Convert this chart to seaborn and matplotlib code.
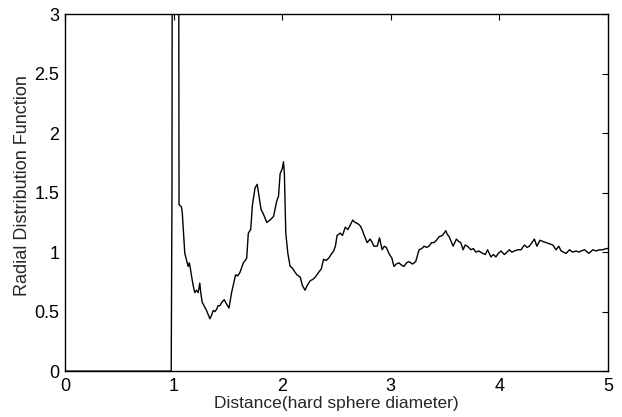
import matplotlib
matplotlib.use('Agg')
import matplotlib.pyplot as plt
import seaborn as sns
import pandas as pd

# distance (hard sphere diameters) and g(r)
distance = [0.0, 0.5, 0.978, 0.985, 0.99, 1.00, 1.02, 1.045, 1.05,
            1.072, 1.08, 1.09, 1.103, 1.12, 1.134, 1.145, 1.155, 1.165,
            1.18, 1.195, 1.21, 1.226, 1.241, 1.25, 1.263, 1.28, 1.303,
            1.334, 1.35, 1.365, 1.38, 1.396, 1.41, 1.426, 1.445, 1.466,
            1.49, 1.51, 1.534, 1.571, 1.59, 1.611, 1.642, 1.66, 1.673,
            1.688, 1.71, 1.725, 1.75, 1.77, 1.787, 1.805, 1.827, 1.84,
            1.858, 1.888, 1.92, 1.95, 1.966, 1.981, 2.0, 2.012, 2.02,
            2.033, 2.052, 2.073, 2.09, 2.104, 2.12, 2.135, 2.166, 2.186,
            2.21, 2.23, 2.258, 2.28, 2.304, 2.335, 2.36, 2.381, 2.405,
            2.428, 2.45, 2.474, 2.49, 2.505, 2.535, 2.555, 2.581, 2.605,
            2.628, 2.65, 2.67, 2.695, 2.72, 2.74, 2.751, 2.782, 2.81,
            2.83, 2.844, 2.875, 2.896, 2.92, 2.94, 2.958, 2.988, 3.01,
            3.029, 3.05, 3.075, 3.1, 3.121, 3.145, 3.167, 3.2, 3.229,
            3.26, 3.285, 3.306, 3.33, 3.352, 3.375, 3.398, 3.42, 3.445,
            3.475, 3.506, 3.52, 3.537, 3.574, 3.604, 3.625, 3.644, 3.666,
            3.685, 3.706, 3.737, 3.76, 3.783, 3.81, 3.845, 3.87, 3.891,
            3.922, 3.945, 3.968, 3.99, 4.014, 4.045, 4.07, 4.091, 4.115,
            4.138, 4.17, 4.199, 4.23, 4.255, 4.276, 4.3, 4.322, 4.345,
            4.374, 4.4, 4.43, 4.46, 4.492, 4.522, 4.547, 4.568, 4.59,
            4.615, 4.645, 4.675, 4.707, 4.73, 4.753, 4.784, 4.824, 4.861,
            4.89, 4.923, 4.95, 4.984, 5.0]
rdf = [0.0, 0.0, 0.0, 1.5, 6.0, 7.5, 7.0, 5.0, 1.40,
       1.38, 1.33, 1.18, 0.99, 0.93, 0.88, 0.91, 0.86, 0.80,
       0.72, 0.66, 0.68, 0.66, 0.74, 0.66, 0.58, 0.55, 0.51,
       0.44, 0.47, 0.51, 0.50, 0.52, 0.55, 0.55, 0.58, 0.60,
       0.56, 0.53, 0.66, 0.81, 0.80, 0.83, 0.91, 0.93, 0.95,
       1.16, 1.19, 1.39, 1.54, 1.57, 1.47, 1.36, 1.32, 1.29,
       1.25, 1.27, 1.30, 1.43, 1.47, 1.66, 1.70, 1.76, 1.66,
       1.16, 0.99, 0.88, 0.87, 0.85, 0.83, 0.81, 0.79, 0.72,
       0.68, 0.72, 0.76, 0.77, 0.79, 0.83, 0.86, 0.94, 0.93,
       0.95, 0.98, 1.01, 1.05, 1.14, 1.16, 1.14, 1.21, 1.19,
       1.23, 1.27, 1.25, 1.24, 1.22, 1.18, 1.15, 1.08, 1.11,
       1.08, 1.05, 1.05, 1.12, 1.02, 1.05, 1.04, 0.98, 0.95,
       0.88, 0.90, 0.91, 0.89, 0.88, 0.91, 0.92, 0.90, 0.92,
       1.02, 1.03, 1.05, 1.04, 1.05, 1.08, 1.08, 1.10, 1.13,
       1.14, 1.18, 1.15, 1.13, 1.05, 1.11, 1.09, 1.08, 1.02,
       1.06, 1.05, 1.02, 1.03, 1.00, 1.01, 0.99, 0.98, 1.02,
       0.96, 0.98, 0.96, 0.99, 1.01, 0.98, 1.00, 1.02, 1.00,
       1.01, 1.02, 1.02, 1.06, 1.04, 1.05, 1.08, 1.11, 1.05,
       1.10, 1.09, 1.08, 1.07, 1.06, 1.02, 1.05, 1.01, 1.00,
       0.99, 1.02, 1.00, 1.01, 1.00, 1.01, 1.02, 0.99, 1.02,
       1.01, 1.02, 1.02, 1.03, 1.03]

df = pd.DataFrame({'distance': distance, 'rdf': rdf})

sns.set_style('white')
plt.rcParams['font.family'] = ['Liberation Sans', 'DejaVu Sans']
plt.rcParams['xtick.direction'] = 'in'
plt.rcParams['ytick.direction'] = 'in'

fig = plt.figure(figsize=(6.22, 4.17), dpi=100)
ax = fig.add_axes([0.1045, 0.11, 0.873, 0.856])
sns.lineplot(data=df, x='distance', y='rdf', color='black', linewidth=1.0,
             ax=ax, estimator=None, sort=False)

ax.set_xlim(0, 5)
ax.set_ylim(0, 3)
ax.set_xticks([0, 1, 2, 3, 4, 5])
ax.set_yticks([0, 0.5, 1, 1.5, 2, 2.5, 3])
ax.set_yticklabels(['0', '0.5', '1', '1.5', '2', '2.5', '3'])
ax.tick_params(axis='both', which='both', top=True, right=True,
               length=4, width=0.8, labelsize=13, colors='black')
ax.tick_params(axis='x', pad=5)
ax.tick_params(axis='y', pad=4)
for s in ax.spines.values():
    s.set_color('black')
    s.set_linewidth(1.0)
ax.set_xlabel('Distance(hard sphere diameter)', fontsize=12.5, labelpad=1)
ax.set_ylabel('Radial Distribution Function', fontsize=13)
ax.yaxis.set_label_coords(-0.063, 0.52)

fig.savefig('out.png', dpi=100)
